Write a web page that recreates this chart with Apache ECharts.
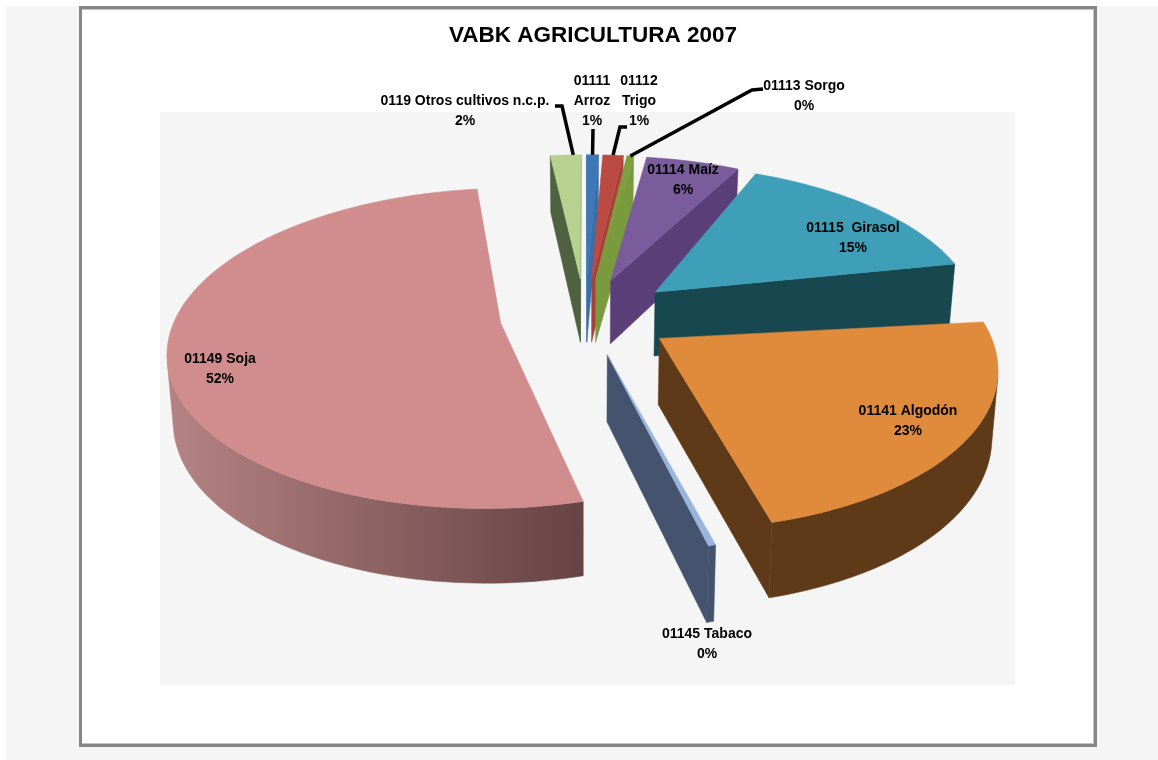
<!DOCTYPE html>
<html><head><meta charset="utf-8">
<style>html,body{margin:0;padding:0;background:#fff}#c{width:1158px;height:760px}</style>
<script src="https://cdn.jsdelivr.net/npm/echarts@6/dist/echarts.min.js"></script>
</head><body><div id="c"></div>
<script>
const chartTitle = 'VABK AGRICULTURA 2007';
const categories = ['01111 Arroz','01112 Trigo','01113 Sorgo','01114 Maíz','01115  Girasol','01141 Algodón','01145 Tabaco','01149 Soja','0119 Otros cultivos n.c.p.'];
const shares = [0.7,1.2,0.4,5.5,15.4,22.6,0.3,52.1,1.8];

// styling
const topColors  = ['#3e77b6','#bb4a42','#7f9f3f','#7a5b9b','#3f9fb8','#e08a3c','#9ab4dc','#d18d8d','#b7d28f'];
const wallLight  = ['#3a6ea8','#a8403b','#7a9a3e','#5b3f78','#17474f','#5e3a18','#44546e','#b58383','#4f6140'];
const wallDark   = ['#3a6ea8','#a8403b','#7a9a3e','#5b3f78','#17474f','#5e3a18','#44546e','#664344','#4f6140'];
const angleNudge = [0,0,0,0,-5,0.5,0,-0.6,0];
const explodeU   = [0.262,0.262,0.262,0.262,0.285,0.272,0.262,0.262,0.262];
const labelAt    = [[592,101],[639,101],[804,96],[683,180],[853,238],[908,421],[707,644],[220,369],[465,111]];
const labelWrap  = [true,true,false,false,false,false,false,false,false];
const leaderFrom = [[[593,129]],[[627,127],[620,127]],[[763,89],[752,90]],null,null,null,null,null,[[555,106],[562,106]]];
const leaderAim  = [0.5,0.5,0.5,0,0,0,0,0,0.75];

// oblique view of the pie plane
const CX=585, CY=316, RX=325, RY=154, K=0.155, DEPTH=65, SHRINK=0.985, EXPLODE_V=0.25;
const rad = d => d*Math.PI/180;
function project(u,v,bottom){
  const s=1/(1+K*v), q=bottom?SHRINK:1;
  return [CX+RX*u*s*q, CY-RY*v*s*q+(bottom?DEPTH*s:0)];
}
const total = shares.reduce((a,b)=>a+b,0);
let cum=0;
const arcs = shares.map((v,i)=>{
  const a0=cum/total*360+angleNudge[i]; cum+=v; const a1=cum/total*360+angleNudge[i];
  return {a0,a1,mid:(a0+a1)/2};
});
function planePoint(i,theta,r){
  const m=rad(arcs[i].mid);
  return [explodeU[i]*Math.sin(m)+r*Math.sin(rad(theta)), EXPLODE_V*Math.cos(m)+r*Math.cos(rad(theta))];
}
const order = arcs.map((a,i)=>[Math.cos(rad(a.mid)),i]).sort((x,y)=>y[0]-x[0]).map(x=>x[1]);
function area(p){let s=0;for(let i=0;i<p.length;i++){const a=p[i],b=p[(i+1)%p.length];s+=a[0]*b[1]-b[0]*a[1];}return s;}

function wallFill(i,xs){
  if(wallLight[i]===wallDark[i]) return wallLight[i];
  return {type:'linear',global:true,x:Math.min(...xs),y:0,x2:Math.max(...xs),y2:0,
    colorStops:[{offset:0,color:wallLight[i]},{offset:1,color:wallDark[i]}]};
}
function renderSlice(params,api){
  const i=api.value(0), z=order.indexOf(i)*10, {a0,a1}=arcs[i];
  const rim=[], n=Math.max(4,Math.ceil((a1-a0)/1.5));
  for(let k=0;k<=n;k++){ rim.push(planePoint(i,a0+(a1-a0)*k/n,1)); }
  const apex=planePoint(i,a0,0);
  const T=p=>project(p[0],p[1],false), B=p=>project(p[0],p[1],true);
  const children=[];
  const addWall=(pts,zz)=>{
    const poly=pts.map(T).concat(pts.slice().reverse().map(B));
    const fill=wallFill(i,poly.map(p=>p[0]));
    children.push({type:'polygon',z2:zz,shape:{points:poly},style:{fill,stroke:fill,lineWidth:0.5}});
  };
  const front=(p,q)=>area([T(p),T(q),B(q),B(p)])<0;
  if(front(apex,rim[0])) addWall([apex,rim[0]],z);
  if(front(rim[n],apex)) addWall([rim[n],apex],z);
  let run=[];
  for(let k=0;k<n;k++){
    if(front(rim[k],rim[k+1])){ if(!run.length) run.push(rim[k]); run.push(rim[k+1]); }
    else if(run.length){ addWall(run,z+1); run=[]; }
  }
  if(run.length) addWall(run,z+1);
  children.push({type:'polygon',z2:z+2,shape:{points:[apex].concat(rim).map(T)},
    style:{fill:topColors[i],stroke:topColors[i],lineWidth:0.5}});
  return {type:'group',children};
}
function renderLabel(params,api){
  const i=api.value(0), pct=Math.round(api.value(1)/total*100)+'%';
  const children=[];
  if(leaderFrom[i]){
    const {a0,a1}=arcs[i], p=planePoint(i,a0+(a1-a0)*leaderAim[i],1), end=project(p[0],p[1],false);
    children.push({type:'polyline',z2:1,shape:{points:leaderFrom[i].concat([end])},
      style:{fill:null,stroke:'#000',lineWidth:3.5}});
  }
  const name=categories[i], txt=(labelWrap[i]?name.replace(' ','\n'):name)+'\n'+pct;
  children.push({type:'text',z2:2,style:{x:labelAt[i][0],y:labelAt[i][1],text:txt,align:'center',verticalAlign:'middle',
    fontFamily:'Liberation Sans',fontWeight:'bold',fontSize:14,lineHeight:20,fill:'#000'}});
  return {type:'group',children};
}
const rows = shares.map((v,i)=>({name:categories[i],value:[i,v]}));
const chart = echarts.init(document.getElementById('c'),null,{renderer:'canvas'});
chart.setOption({
  animation:false,
  backgroundColor:'#fff',
  title:{text:chartTitle,left:588,top:19,textAlign:'center',
    textStyle:{fontFamily:'Liberation Sans',fontWeight:'bold',fontSize:22.5,color:'#000'}},
  graphic:[
    {type:'rect',z:-10,silent:true,shape:{x:6,y:6,width:1152,height:754},style:{fill:'#f5f5f5'}},
    {type:'rect',z:-9,silent:true,shape:{x:79,y:6,width:1018,height:741},style:{fill:'#868686'}},
    {type:'rect',z:-8,silent:true,shape:{x:82,y:9,width:1012,height:735},style:{fill:'#c4c4c4'}},
    {type:'rect',z:-7,silent:true,shape:{x:82,y:10,width:1011,height:733},style:{fill:'#ffffff'}},
    {type:'rect',z:-6,silent:true,shape:{x:160,y:112,width:855,height:573},style:{fill:'#f5f5f5'}}
  ],
  series:[
    {type:'custom',coordinateSystem:'none',silent:true,z:2,renderItem:renderSlice,data:rows},
    {type:'custom',coordinateSystem:'none',silent:true,z:3,renderItem:renderLabel,data:rows}
  ]
});
</script></body></html>
